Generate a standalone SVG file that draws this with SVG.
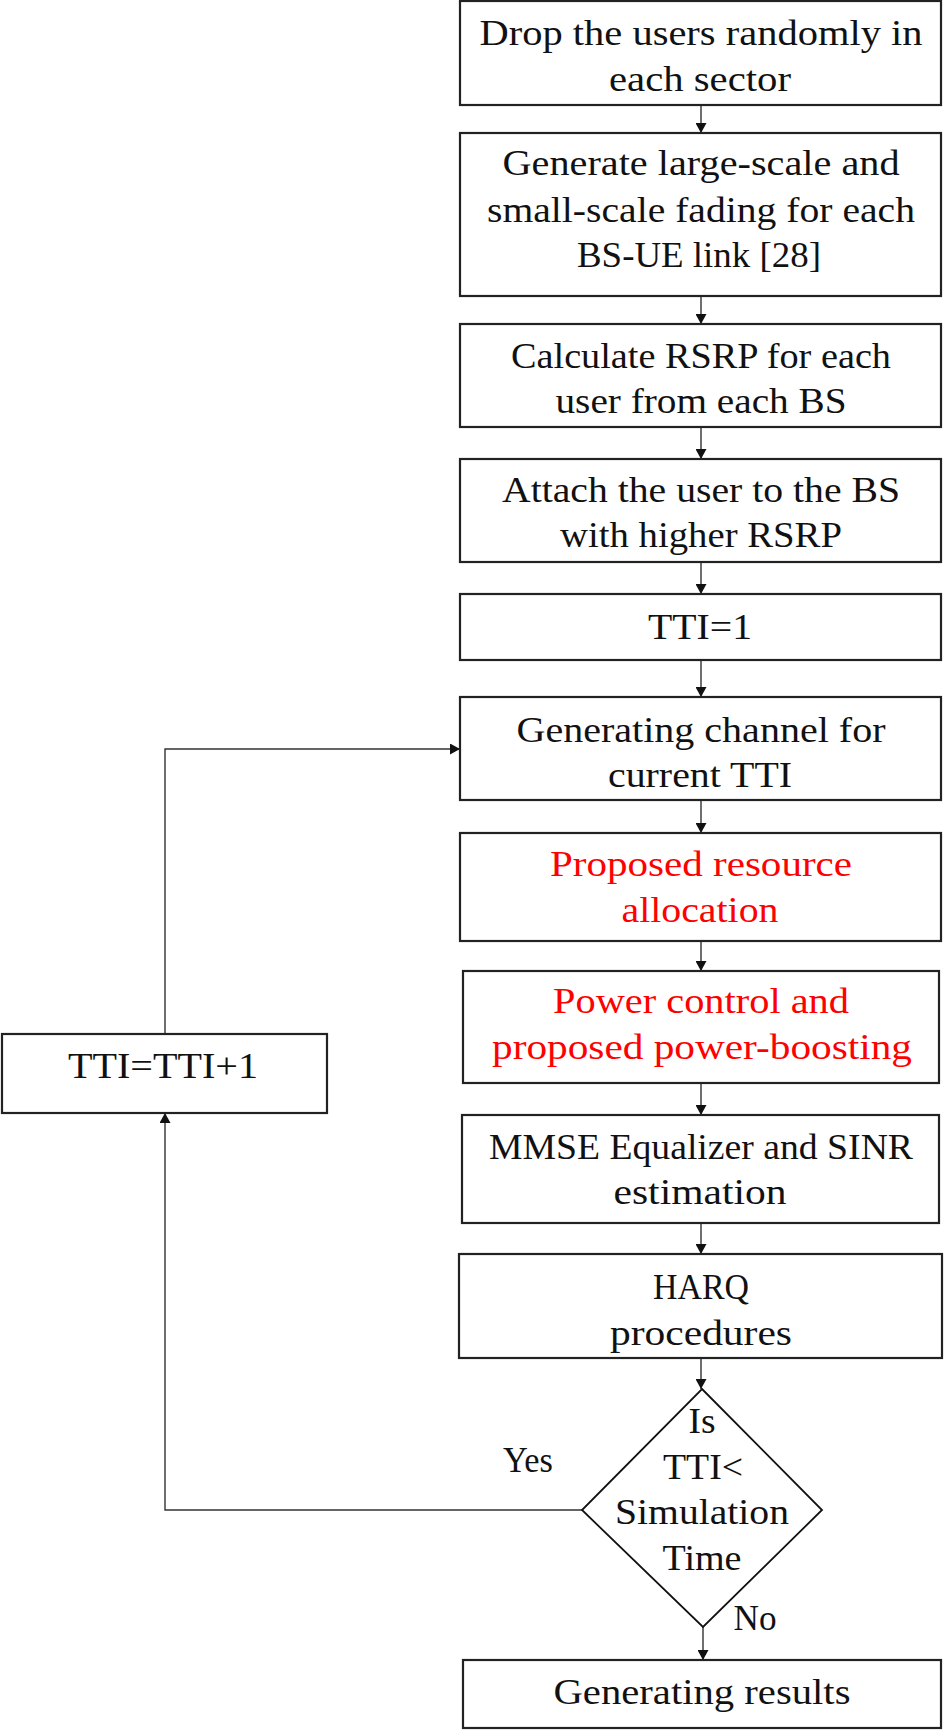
<svg xmlns="http://www.w3.org/2000/svg" width="944" height="1730" viewBox="0 0 944 1730">
<style>
.box{fill:#fff;stroke:#222;stroke-width:2.2}
.t{font-family:"Liberation Serif","Times New Roman",serif;font-size:35px;fill:#111;text-anchor:middle}
.r{fill:#ff0000}
.c{fill:none;stroke:#333;stroke-width:1.4}
</style>
<defs>
<marker id="ah" viewBox="0 0 10 11" refX="10" refY="5.5" markerWidth="10" markerHeight="11" markerUnits="userSpaceOnUse" orient="auto">
<path d="M0,0 L10,5.5 L0,11 z" fill="#111"/>
</marker>
</defs>
<rect width="944" height="1730" fill="#fff"/>
<g id="connectors">
<line class="c" x1="701" y1="105" x2="701" y2="133" marker-end="url(#ah)"/>
<line class="c" x1="701" y1="296" x2="701" y2="324" marker-end="url(#ah)"/>
<line class="c" x1="701" y1="427" x2="701" y2="459" marker-end="url(#ah)"/>
<line class="c" x1="701" y1="562" x2="701" y2="594" marker-end="url(#ah)"/>
<line class="c" x1="701" y1="660" x2="701" y2="697" marker-end="url(#ah)"/>
<line class="c" x1="701" y1="800" x2="701" y2="833" marker-end="url(#ah)"/>
<line class="c" x1="701" y1="941" x2="701" y2="971" marker-end="url(#ah)"/>
<line class="c" x1="701" y1="1083" x2="701" y2="1115" marker-end="url(#ah)"/>
<line class="c" x1="701" y1="1223" x2="701" y2="1254" marker-end="url(#ah)"/>
<line class="c" x1="701" y1="1358" x2="701" y2="1389" marker-end="url(#ah)"/>
<line class="c" x1="703" y1="1627" x2="703" y2="1660" marker-end="url(#ah)"/>
<polyline class="c" points="582,1510 165,1510 165,1113" marker-end="url(#ah)"/>
<polyline class="c" points="165,1034 165,749 460,749" marker-end="url(#ah)"/>
</g>
<g id="n1"><rect class="box" x="460" y="1" width="481" height="104"/>
<text class="t" x="701" y="45" textLength="443" lengthAdjust="spacingAndGlyphs">Drop the users randomly in</text>
<text class="t" x="700" y="91" textLength="182" lengthAdjust="spacingAndGlyphs">each sector</text></g>
<g id="n2"><rect class="box" x="460" y="133" width="481" height="163"/>
<text class="t" x="701" y="175" textLength="397" lengthAdjust="spacingAndGlyphs">Generate large-scale and</text>
<text class="t" x="701" y="222" textLength="428" lengthAdjust="spacingAndGlyphs">small-scale fading for each</text>
<text class="t" x="699" y="267" textLength="244" lengthAdjust="spacingAndGlyphs">BS-UE link [28]</text></g>
<g id="n3"><rect class="box" x="460" y="324" width="481" height="103"/>
<text class="t" x="701" y="368" textLength="380" lengthAdjust="spacingAndGlyphs">Calculate RSRP for each</text>
<text class="t" x="701" y="413" textLength="291" lengthAdjust="spacingAndGlyphs">user from each BS</text></g>
<g id="n4"><rect class="box" x="460" y="459" width="481" height="103"/>
<text class="t" x="701" y="502" textLength="398" lengthAdjust="spacingAndGlyphs">Attach the user to the BS</text>
<text class="t" x="701" y="547" textLength="282" lengthAdjust="spacingAndGlyphs">with higher RSRP</text></g>
<g id="n5"><rect class="box" x="460" y="594" width="481" height="66"/>
<text class="t" x="700" y="639" textLength="104" lengthAdjust="spacingAndGlyphs">TTI=1</text></g>
<g id="n6"><rect class="box" x="460" y="697" width="481" height="103"/>
<text class="t" x="701" y="742" textLength="369" lengthAdjust="spacingAndGlyphs">Generating channel for</text>
<text class="t" x="700" y="787" textLength="184" lengthAdjust="spacingAndGlyphs">current TTI</text></g>
<g id="n7"><rect class="box" x="460" y="833" width="481" height="108"/>
<text class="t r" x="701" y="876" textLength="302" lengthAdjust="spacingAndGlyphs">Proposed resource</text>
<text class="t r" x="700" y="922" textLength="157" lengthAdjust="spacingAndGlyphs">allocation</text></g>
<g id="n8"><rect class="box" x="463" y="971" width="476" height="112"/>
<text class="t r" x="701" y="1013" textLength="296" lengthAdjust="spacingAndGlyphs">Power control and</text>
<text class="t r" x="702" y="1059" textLength="420" lengthAdjust="spacingAndGlyphs">proposed power-boosting</text></g>
<g id="n9"><rect class="box" x="462" y="1115" width="477" height="108"/>
<text class="t" x="701" y="1159" textLength="424" lengthAdjust="spacingAndGlyphs">MMSE Equalizer and SINR</text>
<text class="t" x="700" y="1204" textLength="173" lengthAdjust="spacingAndGlyphs">estimation</text></g>
<g id="n10"><rect class="box" x="459" y="1254" width="483" height="104"/>
<text class="t" x="701" y="1299" textLength="96" lengthAdjust="spacingAndGlyphs">HARQ</text>
<text class="t" x="701" y="1345" textLength="182" lengthAdjust="spacingAndGlyphs">procedures</text></g>
<g id="n11"><polygon points="702,1389 822,1510 703,1627 582,1510" fill="#fff" stroke="#111" stroke-width="1.8"/>
<text class="t" x="702" y="1433" textLength="27" lengthAdjust="spacingAndGlyphs">Is</text>
<text class="t" x="703" y="1479" textLength="80" lengthAdjust="spacingAndGlyphs">TTI&lt;</text>
<text class="t" x="702" y="1524" textLength="174" lengthAdjust="spacingAndGlyphs">Simulation</text>
<text class="t" x="702" y="1570" textLength="79" lengthAdjust="spacingAndGlyphs">Time</text></g>
<g id="n12"><rect class="box" x="463" y="1660" width="478" height="68"/>
<text class="t" x="702" y="1704" textLength="297" lengthAdjust="spacingAndGlyphs">Generating results</text></g>
<g id="n13"><rect class="box" x="2" y="1034" width="325" height="79"/>
<text class="t" x="163" y="1078" textLength="190" lengthAdjust="spacingAndGlyphs">TTI=TTI+1</text></g>
<g id="labels">
<text class="t" x="528" y="1472" textLength="50" lengthAdjust="spacingAndGlyphs">Yes</text>
<text class="t" x="755" y="1630" textLength="43" lengthAdjust="spacingAndGlyphs">No</text>
</g>
</svg>
